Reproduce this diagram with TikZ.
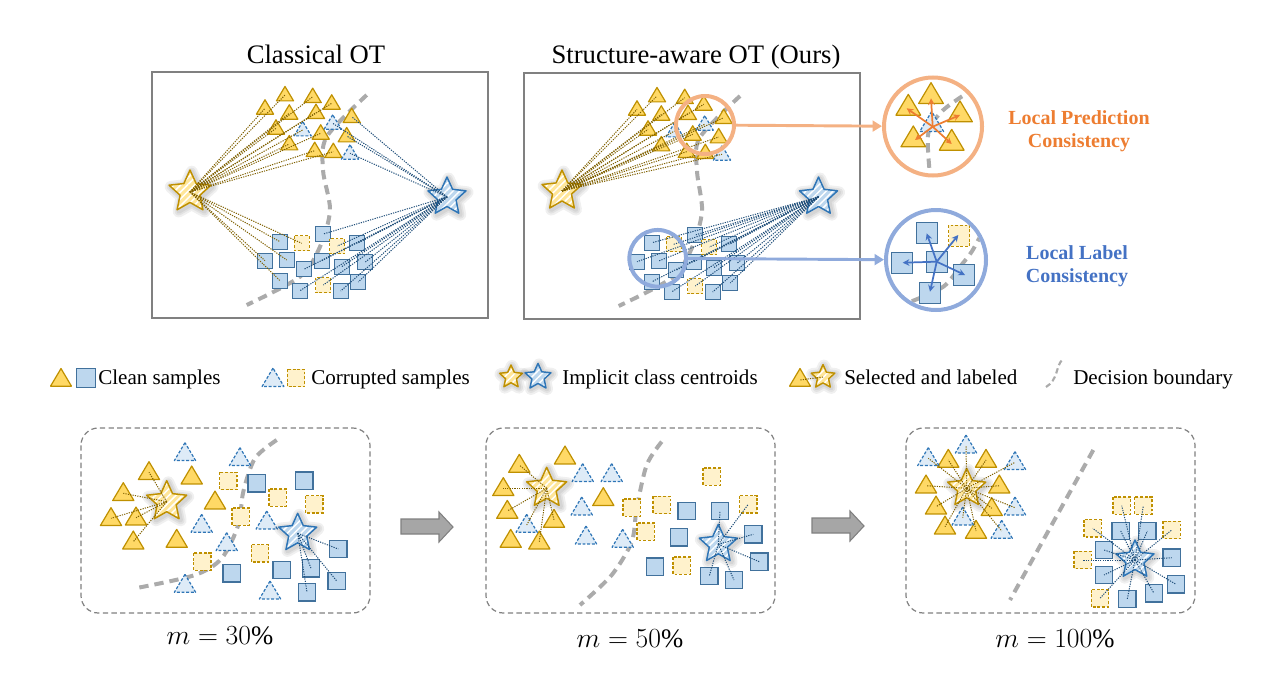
\documentclass[tikz,border=0pt]{standalone}
\usepackage{fontspec}
\setmainfont{Liberation Serif}
\usetikzlibrary{arrows.meta,patterns.meta}
\definecolor{goldfill}{HTML}{FFD966}
\definecolor{goldline}{HTML}{BF9000}
\definecolor{goldlight}{HTML}{FFF2CC}
\definecolor{goldstar}{HTML}{FFE699}
\definecolor{bluefill}{HTML}{BDD7EE}
\definecolor{blueline}{HTML}{41719C}
\definecolor{bluedash}{HTML}{2E75B6}
\definecolor{bluelight}{HTML}{DEEBF7}
\definecolor{golddot}{HTML}{7F6000}
\definecolor{bluedot}{HTML}{1F4E79}
\definecolor{bndgray}{HTML}{ABABAB}
\definecolor{ringorange}{HTML}{F4B183}
\definecolor{ringblue}{HTML}{8FAADC}
\definecolor{txtorange}{HTML}{ED7D31}
\definecolor{txtblue}{HTML}{4472C4}
\definecolor{arrowgray}{HTML}{A6A6A6}
\definecolor{arrowedge}{HTML}{808080}
\definecolor{boxgray}{HTML}{808080}
\newcommand{\starpath}{(0,-20)--(-5.59,-7.69)--(-19.02,-6.18)--(-9.03,2.94)--(-11.76,16.18)--(0,9.5)--(11.76,16.18)--(9.03,2.94)--(19.02,-6.18)--(5.59,-7.69)--cycle}
\newcommand{\TopGT}{285/95,312.7/96.7,331.7/103.3,265/108.3,289.3/113.3,316/112.7,351.7/116.7,276/128.3,320.7/133.3,346.7/136,289.3/144,314.7/150.7,333.3/151.7}
\newcommand{\TopBT}{302.7/130,332.7/123.3,350/153.3}
\newcommand{\TopBS}{280/241.7,323.3/234,357.3/243.3,265/260.7,286.7/260,304/269.3,321.7/260.7,341.7/266.7,365/262.3,280/280.7,300/290.7,340.7/291,358.3/282}
\newcommand{\TopGS}{301.7/243.3,337.3/246,323.3/285}
\tikzset{
  gtri/.pic={\draw[draw=goldline,fill=goldfill,line width=0.9pt,line join=round] (0,-9.5)--(-9.5,6.5)--(9.5,6.5)--cycle;},
  btri/.pic={\draw[draw=bluedash,fill=bluelight,line width=0.9pt,line join=round,dash pattern=on 2.2pt off 1.3pt] (0,-9.5)--(-9.5,6.5)--(9.5,6.5)--cycle;},
  bsq/.pic={\draw[draw=blueline,fill=bluefill,line width=1pt] (-7.5,-7.5) rectangle (7.5,7.5);},
  gsq/.pic={\draw[draw=goldline,fill=goldlight,line width=0.9pt,dash pattern=on 2.2pt off 1.3pt] (-7.5,-7.5) rectangle (7.5,7.5);},
  starglow/.style={black,opacity=0.06,line join=round,shift={(1.5,1.5)}},
  gstar/.pic={
    \foreach \w in {9,6,3.5}{\draw[starglow,line width=\w pt] \starpath;}
    \fill[goldstar] \starpath;
    \fill[pattern={Lines[angle=45,distance=3.6pt,line width=1.1pt]},pattern color=white] \starpath;
    \draw[goldline,line width=1.1pt,line join=round] \starpath;},
  bstar/.pic={
    \foreach \w in {9,6,3.5}{\draw[starglow,line width=\w pt] \starpath;}
    \fill[bluefill] \starpath;
    \fill[pattern={Lines[angle=45,distance=3.6pt,line width=1.1pt]},pattern color=white] \starpath;
    \draw[bluedash,line width=1.1pt,line join=round] \starpath;},
  gl/.style={draw=golddot,line width=0.75pt,dash pattern=on 0.9pt off 0.9pt},
  bl/.style={draw=bluedot,line width=0.75pt,dash pattern=on 0.9pt off 0.9pt},
  bnd/.style={draw=bndgray,line width=3pt,dash pattern=on 7pt off 4.5pt},
  panel/.style={draw=boxgray,line width=1.1pt},
  dpanel/.style={draw=boxgray,line width=0.9pt,dash pattern=on 4pt off 2.5pt,rounded corners=13pt},
  grayarrow/.style={fill=arrowgray,draw=arrowedge,line width=0.8pt,line join=miter},
  ttl/.style={font=\fontsize{20pt}{24pt}\selectfont,inner sep=0pt},
  lgd/.style={font=\fontsize{15.8pt}{19pt}\selectfont,inner sep=0pt,anchor=base west},
  mlab/.style={font=\fontsize{20pt}{24pt}\selectfont,inner sep=0pt,anchor=base},
  ring/.style={circle,draw,line width=3pt,inner sep=0pt},
  cons/.style={font=\fontsize{15pt}{17.5pt}\selectfont\bfseries,align=center,inner sep=0pt},
  oarr/.style={draw=txtorange,line width=1.3pt,-{Stealth[length=5pt,width=5pt]}},
  barr/.style={draw=txtblue,line width=1.3pt,-{Stealth[length=5pt,width=5pt]}},
}
\begin{document}
\begin{tikzpicture}[x=0.75pt,y=-0.75pt]
\useasboundingbox (0,0) rectangle (1273,678);
% ---------------- titles
\node[ttl,anchor=base] (t1) at (316,63) {Classical OT};
\node[ttl,anchor=base] (t2) at (696,63) {Structure-aware OT (Ours)};
% ---------------- top panels
\draw[panel] (152,72) rectangle (488,318);
\draw[panel] (524,73) rectangle (860,319);
% Classical OT
\draw[bnd] plot[smooth] coordinates {(366.7,95) (326.7,136.7) (323,170) (330,210) (320,246.7) (300,276.7) (246.7,305)};
\foreach \x/\y in \TopGT {\pic[scale=0.9] at (\x,\y) {gtri};}
\foreach \x/\y in \TopBT {\pic[scale=0.9] at (\x,\y) {btri};}
\foreach \x/\y in \TopBS {\pic at (\x,\y) {bsq};}
\foreach \x/\y in \TopGS {\pic at (\x,\y) {gsq};}
\coordinate (gs1) at (190,192);
\coordinate (bs1) at (447,197);
\pic[scale=1.1] at (gs1) {gstar};
\pic at (bs1) {bstar};
\foreach \x/\y in {285/95,312.7/96.7,331.7/103.3,265/108.3,289.3/113.3,316/112.7,276/128.3,302.7/130,320.7/133.3,289.3/144,314.7/150.7,333.3/151.7,280/241.7,301.7/243.3,265/260.7,286.7/260,280/280.7}
  {\draw[gl] (gs1) -- (\x,\y);}
\foreach \x/\y in {351.7/116.7,332.7/123.3,346.7/136,350/153.3,323.3/234,337.3/246,357.3/243.3,304/269.3,321.7/260.7,341.7/266.7,365/262.3,300/290.7,323.3/285,340.7/291,358.3/282}
  {\draw[bl] (bs1) -- (\x,\y);}
% Structure-aware OT
\begin{scope}[shift={(372,1)}]
\draw[bnd] plot[smooth] coordinates {(368,95) (327.5,137) (325,170) (330,210) (320,246.7) (300,276.7) (246.7,305)};
\foreach \x/\y in \TopGT {\pic[scale=0.9] at (\x,\y) {gtri};}
\foreach \x/\y in \TopBT {\pic[scale=0.9] at (\x,\y) {btri};}
\foreach \x/\y in \TopBS {\pic at (\x,\y) {bsq};}
\foreach \x/\y in \TopGS {\pic at (\x,\y) {gsq};}
\coordinate (gs2) at (190,190);
\coordinate (bs2) at (446.5,196);
\pic[scale=1.05] at (gs2) {gstar};
\pic at (bs2) {bstar};
\foreach \x/\y in \TopGT {\draw[gl] (gs2) -- (\x,\y);}
\foreach \x/\y in \TopBT {\draw[gl] (gs2) -- (\x,\y);}
\foreach \x/\y in \TopBS {\draw[bl] (bs2) -- (\x,\y);}
\foreach \x/\y in \TopGS {\draw[bl] (bs2) -- (\x,\y);}
\end{scope}
% ---------------- zoomed circles: contents
\begin{scope}
\clip (933,126.5) circle (47);
\draw[bnd] plot[smooth] coordinates {(975,88) (943.3,110) (928.3,133.3) (930,175)};
\end{scope}
\foreach \x/\y in {931/95,908.3/106.7,960/113.3,913.3/138.3,951.7/141.7} {\pic[scale=1.3] at (\x,\y) {gtri};}
\pic[scale=1.25] at (931.7,123.3) {btri};
\coordinate (oc0) at (932.7,126.7);
\foreach \x/\y in {931/98.3,906.7/108.3,960/115,915/140,951.7/144} {\draw[oarr] (oc0) -- (\x,\y);}
\begin{scope}
\clip (936,260) circle (48);
\draw[bnd] plot[smooth] coordinates {(982,233) (971.7,251.7) (960,266.7) (943.3,286.7) (910,302)};
\end{scope}
\foreach \x/\y in {926.7/233.3,901.7/262.7,936.7/261.7,964.3/275,930/292.7} {\pic[scale=1.4] at (\x,\y) {bsq};}
\pic[scale=1.4] at (959.3,235.7) {gsq};
\coordinate (bc0) at (936.7,261.7);
\foreach \x/\y in {926.7/233.3,902.7/262.7,965/275,930/291.7,958.3/235} {\draw[barr] (bc0) -- (\x,\y);}
% rings
\node[ring,draw=ringorange,minimum size=43.5pt] (oc) at (705,125) {};
\node[ring,draw=ringblue,minimum size=42.5pt] (bc) at (657.7,258.3) {};
\node[ring,draw=ringorange,minimum size=73.5pt] (OC) at (933,126.5) {};
\node[ring,draw=ringblue,minimum size=75pt] (BC) at (936,260) {};
\draw[ringorange,line width=2.2pt,-{Triangle[length=7pt,width=8pt]}] (oc) -- (OC);
\draw[ringblue,line width=2.2pt,-{Triangle[length=7pt,width=8pt]}] (bc) -- (BC);
\node[cons,text=txtorange] (lpc) at (1079,131) {Local Prediction\\Consistency};
\node[cons,text=txtblue] (llc) at (1077,266) {Local Label\\Consistency};
% ---------------- legend
\pic[scale=1.1] at (61,379) {gtri};
\pic[scale=1.3] at (86,378) {bsq};
\node[lgd] (l1) at (98,384) {Clean samples};
\pic[scale=1.15] at (273,379) {btri};
\pic[scale=1.15] at (296,378) {gsq};
\node[lgd] (l2) at (311,384) {Corrupted samples};
\pic[scale=0.6] at (511,377) {gstar};
\pic[scale=0.68] at (538,377) {bstar};
\node[lgd] (l3) at (562,384) {Implicit class centroids};
\pic[scale=1.1] at (800,379) {gtri};
\coordinate (lgs) at (823,377);
\pic[scale=0.62] at (lgs) {gstar};
\draw[gl] (lgs) -- (800,380);
\node[lgd] (l4) at (844,384) {Selected and labeled};
\draw[draw=bndgray,line width=1.6pt,dash pattern=on 4pt off 2.5pt] (1046,387) .. controls (1058,380) and (1056,366) .. (1062,360);
\node[lgd] (l5) at (1073,384) {Decision boundary};
% ---------------- bottom panels
\draw[dpanel] (81,428) rectangle (370,613);
\draw[dpanel] (486,428) rectangle (775,613);
\draw[dpanel] (906,428) rectangle (1195,613);
% panel A
\draw[bnd] plot[smooth] coordinates {(276.7,440) (255,458.3) (243.3,491.7) (238.3,525) (221.7,558.3) (195,575) (138.3,587.7)};
\foreach \x/\y in {149/472.3,191.7/476.7,123.3/493.3,215/501.7,111/518.3,136/517.7,133.3/541.7,176.7/540} {\pic[scale=1.12] at (\x,\y) {gtri};}
\foreach \x/\y in {185/453.3,240/458.3,201.7/525,226.7/543.3,266.7/521.7,185/585,270/591.7} {\pic[scale=1.12] at (\x,\y) {btri};}
\foreach \x/\y in {228.3/481,277.7/497.7,314.3/504.3,240.7/516.7,260/553.3,202.3/561.7} {\pic[scale=1.15] at (\x,\y) {gsq};}
\foreach \x/\y in {256.7/483.3,304.3/480.7,231.7/573.3,281.7/570,311/568.3,338.3/549,336.7/581,307/592.3} {\pic[scale=1.15] at (\x,\y) {bsq};}
\coordinate (gsA) at (166.7,501.7);
\coordinate (bsA) at (297.7,533.3);
\pic[scale=1.05] at (gsA) {gstar};
\pic at (bsA) {bstar};
\foreach \x/\y in {149/472.3,123.3/493.3,111/518.3,136/517.7,133.3/541.7} {\draw[gl] (gsA) -- (\x,\y);}
\foreach \x/\y in {338.3/549,311/568.3,336.7/581,307/592.3} {\draw[bl] (bsA) -- (\x,\y);}
% panel B
\draw[bnd] plot[smooth] coordinates {(661.7,441.7) (646.7,465) (636.7,508.3) (631.7,541.7) (611.7,575) (580,605)};
\foreach \x/\y in {519.3/465,565/456.7,503.3/488.3,507.3/511,554/520,510.7/540,539.3/541.7,603.3/498.3} {\pic[scale=1.12] at (\x,\y) {gtri};}
\foreach \x/\y in {582.7/474.3,611.7/474.3,526.7/525,581.7/507.7,586/536.7,622.7/540} {\pic[scale=1.12] at (\x,\y) {btri};}
\foreach \x/\y in {631.7/507.7,661.7/505,645.7/531.7,711.7/476.7,748.3/504.3,681.7/565.7} {\pic[scale=1.15] at (\x,\y) {gsq};}
\foreach \x/\y in {686.7/511,720/511,679/537.3,655/566.7,753.3/534.3,759.3/561.7,709.3/576,734/580} {\pic[scale=1.15] at (\x,\y) {bsq};}
\coordinate (gsB) at (546.7,488.3);
\coordinate (bsB) at (718.3,544.3);
\pic[scale=1.05] at (gsB) {gstar};
\pic at (bsB) {bstar};
\foreach \x/\y in {519.3/465,503.3/488.3,507.3/511,526.7/525,554/520,539.3/541.7} {\draw[gl] (gsB) -- (\x,\y);}
\foreach \x/\y in {720/511,748.3/504.3,753.3/534.3,759.3/561.7,734/580,709.3/576} {\draw[bl] (bsB) -- (\x,\y);}
% panel C
\draw[bnd] (1093.3,450) -- (1010,600);
\foreach \x/\y in {948.3/460,986/460,926/485.7,999.3/485.7,936/506.7,991.7/508.3,945/526.7,976/531} {\pic[scale=1.12] at (\x,\y) {gtri};}
\foreach \x/\y in {966/445.7,928.3/458.3,1015/462.3,1015/507.7,962.7/517.7,1001.7/531} {\pic[scale=1.12] at (\x,\y) {btri};}
\foreach \x/\y in {1121.7/505.7,1143.3/505.7,1092.7/528.3,1171.7/530,1082.7/560,1100/598.3} {\pic[scale=1.15] at (\x,\y) {gsq};}
\foreach \x/\y in {1120.7/531,1147.3/531,1104/550,1171.7/557.7,1104/575,1176/584.3,1154/593.3,1127.3/599} {\pic[scale=1.15] at (\x,\y) {bsq};}
\coordinate (gsC) at (966.7,488.3);
\coordinate (bsC) at (1135,560);
\pic[scale=1.0] at (gsC) {gstar};
\pic at (bsC) {bstar};
\foreach \x/\y in {948.3/460,986/460,926/485.7,999.3/485.7,936/506.7,991.7/508.3,945/526.7,976/531,966/445.7,928.3/458.3,1015/462.3,1015/507.7,962.7/517.7,1001.7/531} {\draw[gl] (gsC) -- (\x,\y);}
\foreach \x/\y in {1121.7/505.7,1143.3/505.7,1092.7/528.3,1171.7/530,1082.7/560,1100/598.3,1120.7/531,1147.3/531,1104/550,1171.7/557.7,1104/575,1176/584.3,1154/593.3,1127.3/599} {\draw[bl] (bsC) -- (\x,\y);}
% gray arrows
\draw[grayarrow] (401,519)--(439,519)--(439,512)--(453,527)--(439,542)--(439,534)--(401,534)--cycle;
\begin{scope}[shift={(411,-1)}]
\draw[grayarrow] (401,519)--(439,519)--(439,512)--(453,527)--(439,542)--(439,534)--(401,534)--cycle;
\end{scope}
% labels
\node[mlab] (mA) at (220,644) {$m = 30\%$};
\node[mlab] (mB) at (630,647) {$m = 50\%$};
\node[mlab] (mC) at (1055,647) {$m = 100\%$};
\end{tikzpicture}
\end{document}
